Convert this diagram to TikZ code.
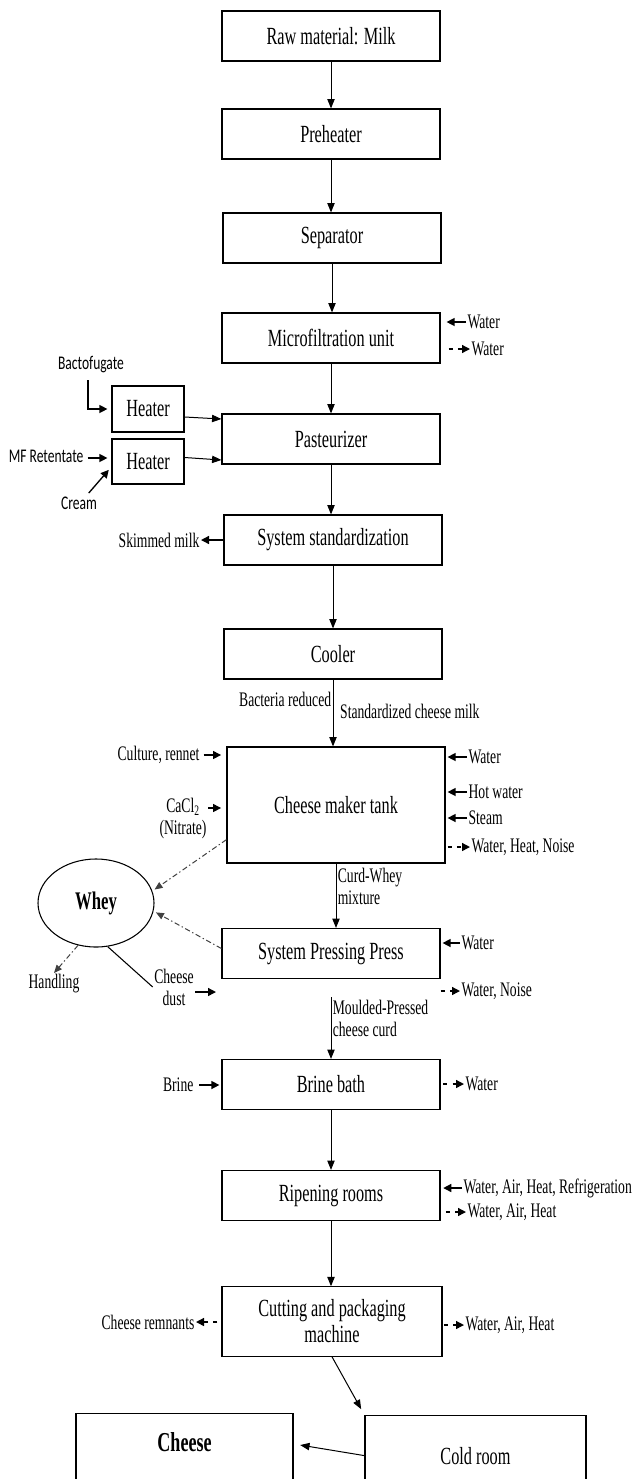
\documentclass[tikz,border=0pt]{standalone}
\usepackage{fontspec}
\setmainfont[FakeStretch=0.66]{Liberation Serif}
\newfontfamily\calfont[FakeStretch=0.7]{Carlito}
\usetikzlibrary{arrows.meta,shapes.geometric}

\begin{document}
\begin{tikzpicture}[x=0.75pt,y=-0.75pt,>={Triangle[width=5.5pt,length=7pt]},
  box/.style={draw,line width=0.9pt,minimum width=163.5pt,minimum height=37.5pt,inner sep=2pt,align=center,font=\fontsize{18.5}{19.5}\selectfont},
  heater/.style={box,minimum width=54pt,minimum height=34.5pt},
  lbl/.style={inner sep=1pt,font=\fontsize{15.5}{16.5}\selectfont},
  sml/.style={inner sep=1pt,font=\calfont\fontsize{14.5}{15}\selectfont},
  arr/.style={->,line width=0.75pt},
  sarr/.style={-{Triangle[width=6pt,length=6pt]},line width=1pt},
  darr/.style={sarr,dash pattern=on 3pt off 4pt},
  ddarr/.style={-{Triangle[width=5pt,length=6pt]},line width=0.75pt,black!75,dash pattern=on 4pt off 2pt on 1pt off 2pt}]
  \useasboundingbox (0,0) rectangle (636,1479);
  \clip (0,0) rectangle (636,1479);

  % process line
  \node[box] (raw) at (331,36) {Raw material: Milk};
  \node[box] (pre) at (331,134) {Preheater};
  \node[box] (sep) at (332,238) {Separator};
  \node[box] (mf) at (331,338) {Microfiltration unit};
  \node[box] (past) at (331,439) {Pasteurizer};
  \node[box] (std) at (333,540) {System standardization};
  \node[box] (cool) at (333,654) {Cooler};
  \node[box,minimum height=87pt] (tank) at (336,805) {Cheese maker tank};
  \node[box] (press) at (331,953.5) {System Pressing Press};
  \node[box] (brine) at (331,1084.5) {Brine bath};
  \node[box] (ripen) at (331,1195.5) {Ripening rooms};
  \node[box,minimum width=165pt,minimum height=52pt] (cut) at (332,1321.5) {Cutting and packaging\\machine};
  \node[box,anchor=north,minimum width=165.75pt,minimum height=60pt] (cold) at (475.5,1415) {Cold room};
  \node[box,anchor=north,minimum width=162.75pt,text height=28.5pt,text depth=33pt,inner ysep=0pt,font=\fontsize{20.5}{21}\selectfont\bfseries] (cheese) at (184.5,1413) {Cheese};

  \foreach \a/\b in {raw/pre,pre/sep,sep/mf,mf/past,past/std,std/cool}
    \draw[arr] (\a.south) -- (\a.south |- \b.north);

  % heaters
  \node[heater] (h1) at (148,409) {Heater};
  \node[heater,minimum height=33.75pt] (h2) at (148,461.5) {Heater};
  \node[sml] (bacto) at (91,365) {Bactofugate};
  \node[sml,anchor=east] (mfr) at (85,456) {MF Retentate};
  \node[sml] (cream) at (79,503) {Cream};
  \draw[sarr,shorten <=4pt,shorten >=3pt] ([xshift=-2.25pt]bacto.south) |- (h1.west);
  \draw[sarr,shorten <=2pt,shorten >=3pt] ([yshift=-1.5pt]mfr.east) -- ([yshift=-1.5pt]mfr.east -| h2.west);
  \draw[sarr,shorten <=2pt,shorten >=3pt] ([xshift=6pt]cream.north) -- ([yshift=-4pt]h2.west);
  \draw[arr] ([yshift=-6pt]h1.east) -- ([yshift=15pt]past.west);
  \draw[arr] ([yshift=3pt]h2.east) -- ([yshift=-15.75pt]past.west);

  % microfiltration
  \node[lbl,anchor=west] (mfin) at (466,322) {Water};
  \node[lbl,anchor=west] (mfout) at (470,349) {Water};
  \draw[sarr,shorten >=4.5pt] (mfin.west) -- (mfin.west -| mf.east);
  \draw[darr,shorten <=6pt] (mfout.west -| mf.east) -- (mfout.west);

  \node[lbl,anchor=east] (skim) at (201,540) {Skimmed milk};
  \draw[sarr] (std.west) -- (skim.east);

  \draw[arr] (cool.south) -- (cool.south |- tank.north)
    node[lbl,pos=0.29,anchor=east] (bact) {Bacteria reduced}
    node[lbl,pos=0.47,anchor=west,xshift=4pt] (stdm) {Standardized cheese milk};

  % cheese maker tank
  \node[lbl,anchor=east] (cult) at (201,755) {Culture, rennet};
  \draw[sarr,shorten <=2pt,shorten >=4pt] (cult.east) -- (cult.east -| tank.west);
  \node[lbl,align=center] (cacl) at (183,819) {CaCl\textsubscript{2}\\(Nitrate)};
  \draw[sarr,shorten >=4pt] ([yshift=8.25pt]cacl.east) -- ([yshift=8.25pt]cacl.east -| tank.west);
  \foreach \nm/\yy/\tx in {tw/757/Water,thw/792/Hot water,tst/818/Steam}{
    \node[lbl,anchor=west] (\nm) at (467,\yy) {\tx};
    \draw[sarr,shorten >=1.5pt] (\nm.west) -- (\nm.west -| tank.east);
  }
  \node[lbl,anchor=west] (tout) at (470,847) {Water, Heat, Noise};
  \draw[darr,shorten <=1.5pt] (tout.west -| tank.east) -- (tout.west);

  % whey
  \node[draw,ellipse,line width=0.8pt,minimum width=87pt,minimum height=66pt,inner sep=0pt,font=\fontsize{19}{19}\selectfont\bfseries] (whey) at (96,903) {Whey};
  \draw[ddarr,shorten >=2pt] ([yshift=-26pt]tank.west) -- (whey.12);
  \draw[ddarr,shorten >=2pt] ([yshift=3.75pt]press.west) -- (whey.-8);
  \node[lbl] (hand) at (54,984) {Handling};
  \draw[ddarr] (whey.-113) -- (hand.north);
  \node[lbl,align=center] (dust) at (174,987) {Cheese\\dust};
  \draw[line width=0.8pt] (whey.-75) -- (dust.west);
  \coordinate (dustend) at (216,992);
  \draw[sarr] (dust.east |- dustend) -- (dustend);

  \draw[arr] (tank.south) -- (tank.south |- press.north)
    node[lbl,pos=0.36,anchor=west,align=left] (curd) {Curd-Whey\\mixture};

  % pressing
  \node[lbl,anchor=west] (pw) at (460,943) {Water};
  \draw[sarr,shorten >=1.5pt] (pw.west) -- (pw.west -| press.east);
  \node[lbl,anchor=west] (pwn) at (460,991) {Water, Noise};
  \draw[darr] (pwn.west -| press.east) -- (pwn.west);
  \draw[arr] ([yshift=-13.5pt]press.south) -- (brine.north)
    node[lbl,pos=0.35,anchor=west,align=left] (mould) {Moulded-Pressed\\cheese curd};

  % brine
  \node[lbl,anchor=east] (brin) at (195,1085) {Brine};
  \draw[sarr,shorten <=3pt,shorten >=1.5pt] (brin.east) -- (brin.east -| brine.west);
  \node[lbl,anchor=west] (bw) at (464,1084) {Water};
  \draw[darr,shorten <=2pt] (bw.west -| brine.east) -- (bw.west);
  \draw[arr] (brine) -- (ripen);

  % ripening
  \node[lbl,anchor=west] (rin) at (462,1188) {Water, Air, Heat, Refrigeration};
  \draw[sarr,shorten >=2pt] (rin.west) -- (rin.west -| ripen.east);
  \node[lbl,anchor=west] (rout) at (466,1212) {Water, Air, Heat};
  \draw[darr,shorten <=4pt] (rout.west -| ripen.east) -- (rout.west);
  \draw[arr] (ripen.south) -- (ripen.south |- cut.north);

  % cutting and packaging
  \node[lbl,anchor=east] (rem) at (196,1322) {Cheese remnants};
  \draw[darr,shorten <=3pt] (rem.east -| cut.west) -- (rem.east);
  \node[lbl,anchor=west] (cw) at (464,1325) {Water, Air, Heat};
  \draw[darr,shorten <=1pt] (cw.west -| cut.east) -- (cw.west);
  \draw[arr,shorten >=5pt] (cut.south) -- (cold.north west);
  \draw[arr,shorten >=5pt] (cold.west) -- ([yshift=8pt]cheese.east);
\end{tikzpicture}
\end{document}
